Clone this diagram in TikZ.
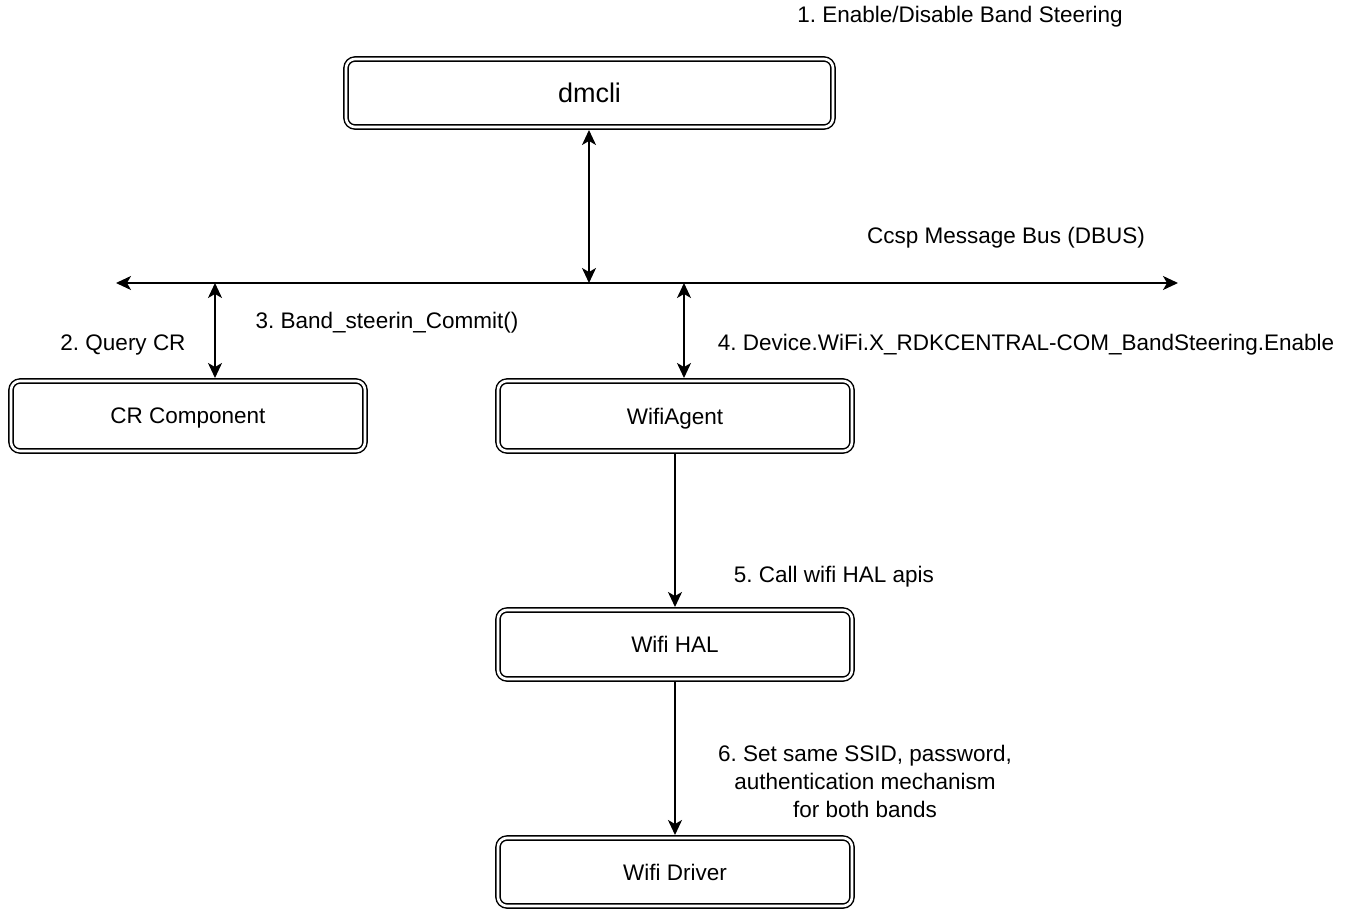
\documentclass[tikz,border=0pt]{standalone}
\usepackage{fontspec}
\setmainfont{Liberation Sans}
\usetikzlibrary{arrows.meta}
\frenchspacing
\tikzset{
	comp/.style={draw, double, line width=1.5pt, double distance=2.6pt, rounded corners=9pt, inner sep=0pt, outer sep=3pt, text depth=0pt, font=\fontsize{22.5}{27}\selectfont},
	lbl/.style={inner sep=0pt, font=\fontsize{22.5}{28}\selectfont},
	tip/.style={line width=1.6pt, -{Stealth[length=15pt,width=14pt,inset=4pt]}},
	dtip/.style={line width=1.6pt, {Stealth[length=15pt,width=14pt,inset=4pt]}-{Stealth[length=15pt,width=14pt,inset=4pt]}}
}
\begin{document}
\begin{tikzpicture}[x=1pt, y=-1pt]
			%%%%% START %%%%%
			\useasboundingbox (0, 0) rectangle (1353, 910);
			
			\node[comp, minimum width=487pt, minimum height=68pt, font=\fontsize{27}{32}\selectfont] (dm) at (589.5, 93) {dmcli};
			\node[comp, minimum width=354pt, minimum height=70pt] (crc) at (188, 416) {CR Component};
			\node[comp, minimum width=354pt, minimum height=70pt] (agent) at (675, 416) {WifiAgent};
			\node[comp, minimum width=354pt, minimum height=69pt] (hal) at (675, 644.5) {Wifi HAL};
			\node[comp, minimum width=354pt, minimum height=68pt] (drv) at (675, 872) {Wifi Driver};
			
			% message bus
			\coordinate (busL) at (116, 283);
			\coordinate (busR) at (1178, 283);
			\draw[dtip] (busL) -- (busR);
			\coordinate (tapdm) at (589, 283);
			\coordinate (tapcr) at (215, 283);
			\coordinate (tapag) at (684, 283);
			
			\draw[dtip] (dm.south -| tapdm) -- (tapdm);
			\draw[dtip] (tapcr) -- (crc.north -| tapcr);
			\draw[dtip] (tapag) -- (agent.north -| tapag);
			\draw[tip] (agent) -- (hal);
			\draw[tip] (hal) -- (drv);
			
			% labels
			\node[lbl] (l1) at (960, 17) {1. Enable/Disable Band Steering};
			\node[lbl] (lbus) at (1006, 238) {Ccsp Message Bus (DBUS)};
			\node[lbl] (l2) at (123, 345) {2. Query CR};
			\node[lbl] (l3) at (387, 323) {3. Band\_steerin\_Commit()};
			\node[lbl] (l4) at (1026, 345) {4. Device.WiFi.X\_RDKCENTRAL-COM\_BandSteering.Enable};
			\node[lbl] (l5) at (834, 577) {5. Call wifi HAL apis};
			\node[lbl, align=center] (l6) at (865, 781) {6. Set same SSID, password,\\authentication mechanism\\for both bands};
			
			%%%%% END %%%%%
\end{tikzpicture}
\end{document}
